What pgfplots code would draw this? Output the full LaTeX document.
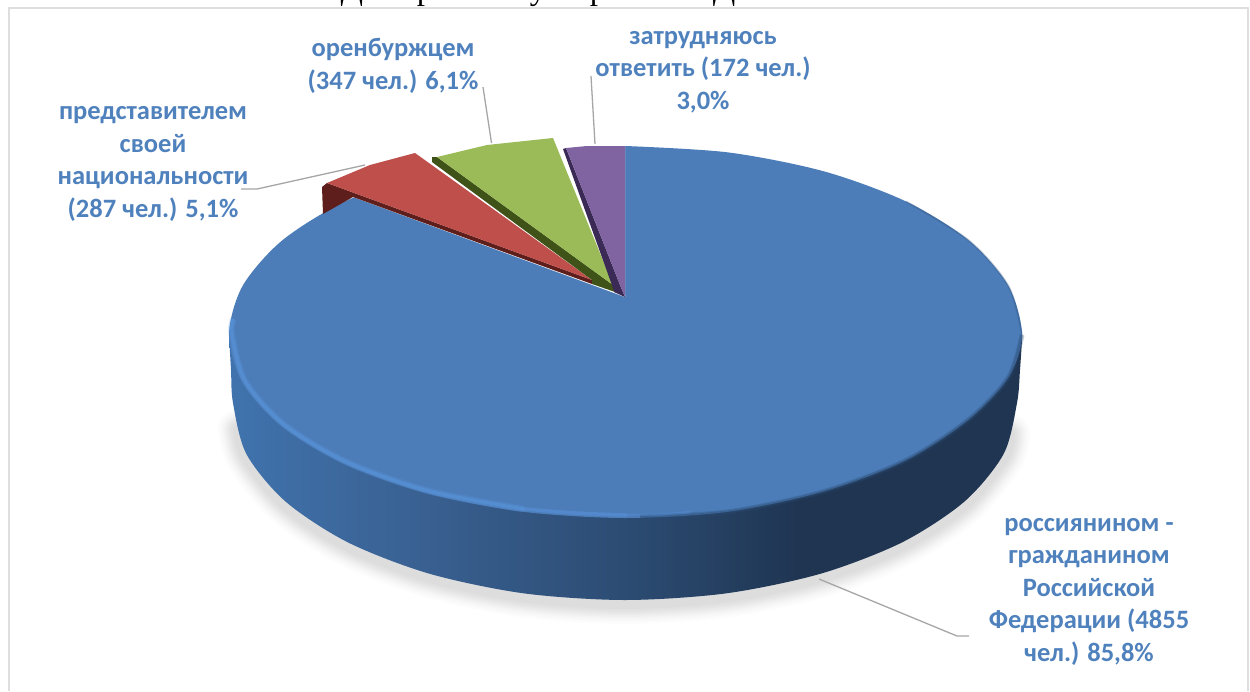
\documentclass[border=0pt]{standalone}
\usepackage{fontspec}
\setmainfont{Carlito}
\newfontfamily\titlefont{Liberation Serif}
\usepackage{pgfplots}
\usepackage{pgfplotstable}
\pgfplotsset{compat=1.18}
\definecolor{lab}{HTML}{4F81BD}
\definecolor{facecol}{HTML}{4C7DB9}
\definecolor{rimcol}{HTML}{5A94DC}
\definecolor{lead}{HTML}{A6A6A6}
\definecolor{framecol}{HTML}{DEDEDE}
\definecolor{redc}{HTML}{BE4F4B}
\definecolor{greenc}{HTML}{9BBB59}
\definecolor{purplec}{HTML}{8064A2}
\definecolor{dred}{HTML}{5E1E1C}
\definecolor{dgreen}{HTML}{3F5218}
\definecolor{dpurple}{HTML}{3B2A55}
\definecolor{sa}{HTML}{4073AD}
\definecolor{sb}{HTML}{3A6294}
\definecolor{sc}{HTML}{2B4A70}
\definecolor{sd}{HTML}{1F3552}
\pgfdeclarehorizontalshading{bodyside}{100bp}{color(0bp)=(sa);color(25bp)=(sa);color(36bp)=(sb);color(51bp)=(sc);color(61bp)=(sd);color(100bp)=(sd)}
\pgfplotstableread{
x y
625.5 146
728.1 152.4
823.8 171.3
905.9 201.4
968.9 240.5
1008.5 286.1
1022 335
1008.5 377.4
968.9 419.5
905.9 460.4
823.8 491.5
728.1 511.8
625.5 518
522.9 511.8
427.3 493.5
345.1 464.4
282.1 426.5
242.5 382.4
229 335
242.5 286.1
282.1 240.5
345.1 201.4
427.3 171.3
522.9 152.4
625.5 146
}\facetable
\pgfplotstableread{
x y
229 335
231 370
233 403
246.4 454
285.5 501.5
347.8 542.3
429 573.6
523.5 593.3
625 600
726.5 593.3
821 573.6
902.2 542.3
964.5 501.5
1003.6 454
1017 403
1020 370
1022 340
}\bodytable
\pgfplotstableread{
x y
238 425
246.4 454
285.5 501.5
347.8 542.3
429 573.6
523.5 593.3
625 600
726.5 593.3
821 573.6
902.2 542.3
964.5 501.5
1003.6 454
1010 430
}\shadowtable
\pgfplotstableread{
x y
233.5 319
232 335
245.4 381.6
284.7 425
347.3 462.3
428.7 490.9
523.6 508.9
}\rimtable
\begin{document}
\begin{tikzpicture}
\begin{axis}[
  at={(0,0)}, anchor=south west,
  scale only axis, width=1250pt, height=691pt,
  xmin=0, xmax=1250, ymin=0, ymax=691, y dir=reverse,
  hide axis, no marks]
% clipped title
\node[anchor=base,font=\titlefont\fontsize{33}{33}\selectfont] at (axis cs:352,-1) {Д};
\node[anchor=base,font=\titlefont\fontsize{33}{33}\selectfont] at (axis cs:425,-1) {р};
\node[anchor=base,font=\titlefont\fontsize{33}{33}\selectfont] at (axis cs:538,-1) {у};
\node[anchor=base,font=\titlefont\fontsize{33}{33}\selectfont] at (axis cs:598,-1) {р};
\node[anchor=base,font=\titlefont\fontsize{33}{33}\selectfont] at (axis cs:724,-1) {Д};
% frame
\addplot[framecol, line width=2pt] coordinates {(8.5,691) (8.5,8) (1248,8) (1248,691)};
% soft shadow
\addplot[smooth, black, opacity=.012, line width=40pt, line cap=round, yshift=-4pt] table {\shadowtable};
\addplot[smooth, black, opacity=.014, line width=35pt, line cap=round, yshift=-4pt] table {\shadowtable};
\addplot[smooth, black, opacity=.016, line width=30pt, line cap=round, yshift=-4pt] table {\shadowtable};
\addplot[smooth, black, opacity=.018, line width=26pt, line cap=round, yshift=-4pt] table {\shadowtable};
\addplot[smooth, black, opacity=.02, line width=22pt, line cap=round, yshift=-4pt] table {\shadowtable};
\addplot[smooth, black, opacity=.02, line width=18pt, line cap=round, yshift=-4pt] table {\shadowtable};
\addplot[smooth, black, opacity=.02, line width=14pt, line cap=round, yshift=-4pt] table {\shadowtable};
\addplot[smooth, black, opacity=.02, line width=10pt, line cap=round, yshift=-4pt] table {\shadowtable};
% body side
\addplot[smooth, draw=none, shade, shading=bodyside] table {\bodytable};
% top face of the large slice
\addplot[smooth, draw=none, fill=facecol] table {\facetable};
% soft dark edges on the right
\addplot[smooth, sc, opacity=.3, line width=1.8pt] coordinates {(905.9,201.4) (968.9,240.5) (1008.5,286.1) (1022,335)};
\addplot[smooth, sc, opacity=.25, line width=5pt] coordinates {(1022,335) (1008.5,377.4) (968.9,419.5) (905.9,460.4) (823.8,491.5) (728.1,511.8) (640,517)};
\addplot[smooth, sc, opacity=.35, line width=3pt] coordinates {(1022,335) (1008.5,377.4) (968.9,419.5) (905.9,460.4) (823.8,491.5) (728.1,511.8) (640,517)};
% soft highlight on the lit front
\addplot[smooth, rimcol, opacity=.18, line width=7pt] table {\rimtable};
\addplot[smooth, rimcol, opacity=.3, line width=5pt] table {\rimtable};
\addplot[smooth, rimcol, opacity=.5, line width=3pt] table {\rimtable};
\addplot[smooth, rimcol, opacity=.55, line width=3.5pt, line cap=round] coordinates {(523.6,508.9) (575,513) (625.5,515)};
\addplot[smooth, rimcol, opacity=.3, line width=2.5pt, line cap=round] coordinates {(625.5,515) (660,514.5) (690,512)};
% cut-out of the three small slices
\addplot[draw=none, fill=white] coordinates {(625,297) (353,197) (300,195) (300,120) (625,120)};
% red slice
\addplot[draw=none, fill=dred] coordinates {(327,183) (322,187) (323,214) (353,197) (592,284) (592,280)};
\addplot[draw=none, fill=redc] coordinates {(327,183) (370,165) (415,153) (592,280)};
% green slice
\addplot[draw=none, fill=dgreen] coordinates {(432,157) (432,162) (592,280) (592,284) (615,292) (613,285) (437,157)};
\addplot[draw=none, fill=greenc] coordinates {(437,157) (487,145) (553,138) (613,285)};
% purple slice
\addplot[draw=none, fill=dpurple] coordinates {(563,149) (566,148) (620,285) (625,297) (614,292) (613,288)};
\addplot[draw=none, fill=purplec] coordinates {(566,148) (587,146) (625,146) (625,297) (620,285)};
% leader lines
\addplot[lead, line width=1.3pt] coordinates {(591,76) (595,144)};
\addplot[lead, line width=1.3pt] coordinates {(483,87) (491.5,143)};
\addplot[lead, line width=1.3pt] coordinates {(241,189) (257,189) (365,165)};
\addplot[lead, line width=1.3pt] coordinates {(819,579) (957,636) (969,636)};
% labels
\node[lab, align=center, font=\fontsize{26.5}{32.5}\selectfont\bfseries] at (axis cs:703,72) {затрудняюсь\\ответить (172 чел.)\\3,0\%};
\node[lab, align=center, font=\fontsize{26.5}{32.5}\selectfont\bfseries] at (axis cs:393,66) {оренбуржцем\\(347 чел.) 6,1\%};
\node[lab, align=center, font=\fontsize{26.5}{32.5}\selectfont\bfseries] at (axis cs:153,164) {представителем\\своей\\национальности\\(287 чел.) 5,1\%};
\node[lab, align=center, font=\fontsize{26.5}{32.5}\selectfont\bfseries] at (axis cs:1089,591.5) {россиянином -\\гражданином\\Российской\\Федерации (4855\\чел.) 85,8\%};
\end{axis}
\pgfresetboundingbox
\path[use as bounding box] (0,0) rectangle (1250pt,691pt);
\end{tikzpicture}
\end{document}
